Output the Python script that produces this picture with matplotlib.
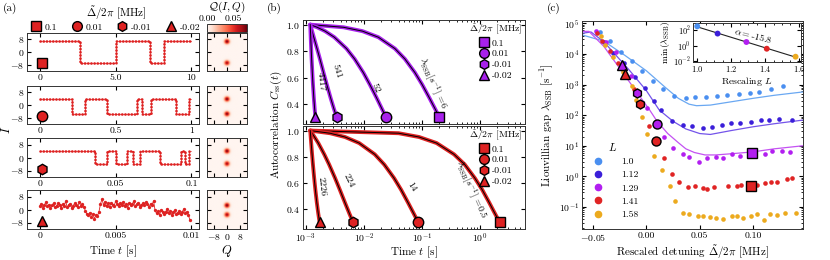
import matplotlib.pyplot as plt
import numpy as np
from matplotlib.lines import Line2D

plt.rcParams.update({
    "font.family": "serif",
    "font.serif": ["cmr10", "DejaVu Serif"],
    "mathtext.fontset": "cm",
    "axes.formatter.use_mathtext": True,
    "font.size": 7,
    "xtick.direction": "in", "ytick.direction": "in",
    "xtick.top": True, "ytick.right": True,
    "xtick.major.size": 3, "ytick.major.size": 3,
    "xtick.minor.size": 1.5, "ytick.minor.size": 1.5,
    "xtick.major.pad": 2, "ytick.major.pad": 2,
    "axes.linewidth": 0.7,
    "axes.edgecolor": "#333333",
})

RED = "#de2222"
PURPLE = "#a821ec"

# detuning legend
det_labels = ["0.1", "0.01", "-0.01", "-0.02"]
det_markers = ["s", "o", "h", "^"]

# ---- (a) time traces: switching times and levels ----
trace1_switch = [0, 2.68, 5.01, 7.25, 8.17, 10.0]
trace1_levels = [6.7, -6.9, 6.7, -6.9, 6.7]
trace2_switch = [0, 0.21, 0.295, 0.445, 0.64, 0.675, 0.73, 0.895, 0.985, 1.0]
trace2_levels = [3.8, -5.6, 3.8, -5.6, 3.8, -5.6, 3.8, -5.6, 3.8]
trace3_switch = [0, 0.0363, 0.044, 0.050, 0.0578, 0.0615, 0.0659, 0.0795, 0.0934, 0.0955, 0.0985, 0.1]
trace3_levels = [4.0, -3.8, 4.0, -3.8, 4.0, -3.8, 4.0, -3.8, 4.0, -3.8, 4.0]
# noisy trace, one sample every 0.1 ms
trace4_values = [2.1, 3.5, 1.2, 2.8, 4.6, 1.9, 3.0, 0.8, 2.5, 3.9, 1.6, 2.2, 4.1, 2.7, 0.9,
                 3.3, 2.0, 5.2, 1.4, 2.9, 3.6, 1.1, 2.4, 3.8, 2.6, 1.5, 4.4, 2.3, 3.1, 1.8,
                 -0.8, -2.9, -3.6, -1.9, -4.8, -2.7, -5.9, -3.2, -4.1, -1.3,
                 3.5, 6.4, 2.8, 4.9, 2.1, 3.7, 1.6, 4.2, 3.0, 2.4, 5.1, 3.3, 1.9, 3.9, 2.6,
                 4.5, 2.2, 3.4, 1.2, 4.0, 2.9, 3.6, 5.0, 2.0, 3.2, 4.3, 1.7, 2.8, 3.8, 2.5,
                 4.6, 3.1, 1.5, 3.5, 2.7, 5.4,
                 -0.5, -2.4, -1.1, -3.3, -0.2, -1.8, -2.9, -1.4, 0.6, -2.2, -1.0, -3.1,
                 -1.6, -0.4, -2.6, -1.9, -0.9, -2.8, -1.3, 0.3, -2.0, -1.5, -3.4, -6.5]
trace_spans = [10, 1, 0.1, 0.01]
trace_ticklabels = [["0", "5.0", "10"], ["0", "0.5", "1"], ["0", "0.05", "0.1"], ["0", "0.005", "0.01"]]
blob_levels = [(6.7, -6.9), (3.8, -5.6), (4.0, -3.8), (2.6, -3.2)]
blob_weights = [(0.55, 0.5), (0.55, 0.55), (0.55, 0.5), (0.55, 0.5)]
blob_sigma = 1.1

# ---- (b) autocorrelation curves ----
c_decay = [1.0, 0.98, 0.951, 0.905, 0.819, 0.741, 0.638, 0.549, 0.449, 0.368, 0.301]
lam_top = ["6", "52", "541", "4417"]
t_top = [
    [0.0012, 0.0045, 0.0095, 0.0179, 0.0345, 0.0512, 0.0762, 0.1012, 0.1345, 0.1679, 0.2012],
    [0.0012, 0.00158, 0.00216, 0.00312, 0.00505, 0.00697, 0.00985, 0.0127, 0.0166, 0.0204, 0.0243],
    [0.0012, 0.00124, 0.00129, 0.00138, 0.00157, 0.00176, 0.00203, 0.00231, 0.00268, 0.00305, 0.00342],
    [0.0012, 0.0012045, 0.0012113, 0.0012226, 0.0012453, 0.0012679, 0.0013019, 0.0013358,
     0.0013811, 0.0014264, 0.0014717],
]
lam_bot = ["0.5", "14", "224", "2226"]
t_bot = [
    [0.0012, 0.04, 0.09, 0.18, 0.36, 0.55, 0.82, 1.1, 1.46, 1.82, 2.2],
    [0.0012, 0.00263, 0.00477, 0.00834, 0.0155, 0.0226, 0.0333, 0.0441, 0.0583, 0.0726, 0.0869],
    [0.0012, 0.00129, 0.00142, 0.00165, 0.00209, 0.00254, 0.00321, 0.00388, 0.00477, 0.00566, 0.00656],
    [0.0012, 0.001209, 0.0012225, 0.0012449, 0.0012898, 0.0013348, 0.0014022, 0.0014695,
     0.0015594, 0.0016492, 0.0017391],
]
# curve label anchors (t, C, rotation)
lab_top = [(0.155, 0.56, -66), (0.0158, 0.52, -62), (0.0034, 0.645, -72), (0.00183, 0.57, -84)]
lab_bot = [(0.70, 0.55, -66), (0.066, 0.57, -57), (0.0055, 0.62, -64), (0.0019, 0.575, -84)]

# ---- (c) Liouvillian gap vs rescaled detuning (log10 values) ----
L_vals = ["1.0", "1.12", "1.29", "1.41", "1.58"]
L_colors = ["#4a8ff0", "#3b1fd9", "#b21ff0", "#e02424", "#ecaa1e"]
x_L10 = [-0.044, -0.034, -0.024, -0.014, -0.004, 0.006, 0.016, 0.026, 0.037, 0.046, 0.056, 0.066,
         0.076, 0.087, 0.097, 0.106, 0.117, 0.128]
g_L10 = [4.71, 4.41, 4.06, 3.76, 3.44, 3.11, 2.85, 2.62, 2.56, 2.59, 2.59, 2.62, 2.65, 2.69, 2.72,
         2.75, 2.85, 2.95]
x_L112 = [-0.040, -0.031, -0.021, -0.011, -0.001, 0.007, 0.014, 0.024, 0.034, 0.043, 0.053, 0.062,
          0.071, 0.079, 0.088, 0.098, 0.108, 0.115, 0.124, 0.137]
g_L112 = [4.40, 4.02, 3.70, 3.24, 2.88, 2.46, 2.17, 1.81, 1.68, 1.65, 1.58, 1.61, 1.68, 1.74, 1.74,
          1.78, 1.84, 1.84, 1.87, 1.84]
x_L129 = [-0.047, -0.038, -0.029, -0.0145, 0.0007, 0.0169, 0.0253, 0.034, 0.040, 0.049, 0.057,
          0.065, 0.072, 0.080, 0.088, 0.111, 0.118, 0.127, 0.135]
g_L129 = [4.74, 4.38, 4.05, 3.27, 2.22, 1.28, 0.92, 0.72, 0.63, 0.46, 0.60, 0.62, 0.61, 0.73, 0.66,
          0.74, 0.83, 0.83, 0.79]
x_L141 = [-0.046, -0.042, -0.034, -0.027, -0.012, 0.0022, 0.0169, 0.024, 0.031, 0.039, 0.046, 0.053,
          0.057, 0.063, 0.077, 0.085, 0.089, 0.104, 0.111, 0.117, 0.123, 0.132, 0.137]
g_L141 = [4.68, 4.44, 4.09, 3.69, 2.85, 1.65, 0.59, 0.07, -0.17, -0.35, -0.32, -0.39, -0.42, -0.35,
          -0.30, -0.31, -0.28, -0.28, -0.23, -0.17, -0.19, -0.08, -0.05]
x_L158 = [-0.043, -0.039, -0.031, -0.022, -0.014, -0.010, -0.0045, 0.0003, 0.0075, 0.0146, 0.022,
          0.027, 0.034, 0.040, 0.048, 0.053, 0.060, 0.065, 0.072, 0.080, 0.085, 0.091, 0.098, 0.104,
          0.110, 0.116, 0.123, 0.130, 0.140]
g_L158 = [4.58, 4.30, 3.90, 3.40, 2.95, 2.49, 1.93, 1.38, 0.67, 0.21, -0.30, -0.82, -1.20, -1.23,
          -1.28, -1.28, -1.32, -1.37, -1.38, -1.30, -1.30, -1.37, -1.29, -1.23, -1.42, -1.22, -1.25,
          -1.19, -1.20]
# theory lines
lx_L10 = [-0.060, -0.040, -0.020, 0.000, 0.018, 0.030, 0.040, 0.047, 0.060, 0.080, 0.100, 0.120, 0.147]
lg_L10 = [4.62, 4.42, 3.95, 3.45, 2.90, 2.55, 2.36, 2.31, 2.33, 2.44, 2.55, 2.65, 2.76]
lx_L112 = [-0.060, -0.052, -0.040, -0.016, 0.000, 0.012, 0.025, 0.037, 0.050, 0.060, 0.080, 0.100,
           0.120, 0.147]
lg_L112 = [4.68, 4.72, 4.40, 3.47, 2.80, 2.17, 1.80, 1.55, 1.40, 1.37, 1.50, 1.62, 1.72, 1.84]
lx_L129 = [-0.060, -0.054, -0.040, -0.016, 0.003, 0.010, 0.020, 0.030, 0.037, 0.045, 0.055, 0.065,
           0.080, 0.100, 0.120, 0.147]
lg_L129 = [4.74, 4.74, 4.25, 3.09, 2.17, 1.80, 1.40, 1.10, 0.90, 0.78, 0.70, 0.70, 0.74, 0.80, 0.90, 1.00]
line_colors = ["#6aa8f2", "#7454ea", "#c452f2"]
# highlighted detunings (order: 0.1, 0.01, -0.01, -0.02)
mark_x_129 = [0.099, 0.0095, -0.0085, -0.0225]
mark_x_141 = [0.0985, 0.0093, -0.0065, -0.0205]
lam_129 = [6, 52, 541, 4417]
lam_141 = [0.5, 14, 224, 2226]
# inset: minimum gap vs rescaling
L_num = [1.0, 1.12, 1.29, 1.41, 1.58]
min_gap = [300, 35, 2.9, 0.4, 0.038]


def step_path(switch, levels):
    x = np.repeat(switch, 2)[1:-1]
    y = np.repeat(levels, 2)
    return x, y


W, H = 830, 260
fig = plt.figure(figsize=(8.3, 2.6), dpi=100)


def box(x0, y0, x1, y1):
    return [x0 / W, 1 - y1 / H, (x1 - x0) / W, (y1 - y0) / H]


# ================= panel (a) =================
rows_px = [(33, 71), (86, 124), (138, 177), (190, 229)]
traces = [step_path(trace1_switch, trace1_levels),
          step_path(trace2_switch, trace2_levels),
          step_path(trace3_switch, trace3_levels),
          (np.arange(len(trace4_values)) * 1e-4, trace4_values)]
qg = np.linspace(-12, 12, 121)
QQ, II = np.meshgrid(qg, qg)
for k, (y0, y1) in enumerate(rows_px):
    T = trace_spans[k]
    ax = fig.add_axes(box(27, y0, 199, y1))
    tx, ty = traces[k]
    if k < 3:
        ax.plot(tx, ty, color=RED, lw=0.5, alpha=0.8)
        ax.plot(tx, ty, color=RED, lw=1.9, ls=(0, (0.1, 1.1)), dash_capstyle="round")
    else:
        ax.plot(tx, ty, color=RED, lw=0.6)
        ax.plot(tx, ty, ls="", marker="o", ms=2.4, color=RED, mew=0)
    ax.plot(0.09, 0.2, transform=ax.transAxes, marker=det_markers[k], ms=7.5,
            mfc=RED, mec="black", mew=1.0, ls="")
    ax.set_xlim(-0.085 * T, 1.05 * T)
    ax.set_ylim(-12, 12)
    ax.set_yticks([-8, 0, 8])
    ax.set_xticks([0, T / 2, T])
    ax.set_xticklabels(trace_ticklabels[k])
    ax.tick_params(labelsize=7)

    qa = fig.add_axes(box(207, y0, 247, y1))
    dens = np.zeros_like(QQ)
    for lvl, w in zip(blob_levels[k], blob_weights[k]):
        dens += w * np.exp(-(QQ ** 2 + (II - lvl) ** 2) / (2 * blob_sigma ** 2)) / (2 * np.pi * blob_sigma ** 2)
    im = qa.imshow(dens, extent=[-12, 12, -12, 12], origin="lower", cmap="Reds",
                   vmin=0, vmax=0.075, aspect="auto", interpolation="bilinear")
    qa.set_xticks([-8, 0, 8])
    qa.set_yticks([-8, 0, 8])
    qa.tick_params(labelleft=False, labelbottom=(k == 3), labelsize=7)

cax = fig.add_axes(box(207, 24, 247, 32))
cb = fig.colorbar(im, cax=cax, orientation="horizontal", ticks=[0.0, 0.05])
cb.ax.xaxis.set_ticks_position("top")
cb.ax.set_xticklabels(["0.00", "0.05"])
cb.ax.tick_params(labelsize=7, length=0, pad=1)
cb.outline.set_linewidth(0.7)
fig.text(227 / W, 1 - 7 / H, r"$\mathcal{Q}(I,Q)$", ha="center", va="center", fontsize=8)

h_a = [Line2D([], [], ls="", marker=m, ms=7, mfc=RED, mec="black", mew=1.0) for m in det_markers]
fig.legend(h_a, det_labels, ncol=4, loc="center", bbox_to_anchor=(116 / W, 1 - 18 / H),
           frameon=False, fontsize=7, title=r"$\tilde{\Delta}/2\pi$ [MHz]", title_fontsize=8,
           handletextpad=0.4, columnspacing=1.6, borderpad=0.0, handlelength=0.9,
           labelspacing=0.1)
fig.text(7 / W, 0.5, "$I$", rotation=90, ha="center", va="center", fontsize=9)
fig.text(113 / W, 1 - 251 / H, r"Time $t$ [s]", ha="center", va="center", fontsize=8)
fig.text(227 / W, 1 - 251 / H, "$Q$", ha="center", va="center", fontsize=9)

# ================= panel (b) =================
ax_bt = fig.add_axes(box(303, 20, 525, 124))
ax_bb = fig.add_axes(box(303, 126, 525, 229))
for ax, tl, lams, col, labs in [(ax_bt, t_top, lam_top, PURPLE, lab_top),
                                (ax_bb, t_bot, lam_bot, RED, lab_bot)]:
    for j, tt in enumerate(tl):
        ax.plot(tt, c_decay, color=col, lw=2.8, solid_capstyle="round")
        ax.plot(tt, c_decay, color="black", lw=0.7)
        ax.plot(tt[-1], 0.3, marker=det_markers[j], ms=7.5, mfc=col, mec="black", mew=1.0, ls="",
                zorder=5)
        lx, ly, rot = labs[j]
        txt = lams[j] if j > 0 else r"$\lambda_{\rm SSB}[s^{-1}]$ =" + lams[j]
        ax.text(lx, ly, txt, rotation=rot, ha="center", va="center", fontsize=7,
                rotation_mode="anchor", zorder=6)
    ax.set_xscale("log")
    ax.set_xlim(9e-4, 6)
    ax.set_ylim(0.25, 1.035)
    ax.set_yticks([0.4, 0.6, 0.8, 1.0])
    ax.tick_params(labelsize=7)
    h_b = [Line2D([], [], ls="", marker=m, ms=7, mfc=col, mec="black", mew=1.0) for m in det_markers]
    ax.legend(h_b, det_labels, loc="upper right", frameon=False, fontsize=7,
              title=r"$\tilde{\Delta}/2\pi$ [MHz]", title_fontsize=7, handletextpad=0.3,
              labelspacing=0.2, borderaxespad=0.2, handlelength=1.0, borderpad=0.1)
ax_bt.tick_params(labelbottom=False)
ax_bb.set_xticks([1e-3, 1e-2, 1e-1, 1e0])
fig.text(276 / W, 1 - 124.5 / H, r"Autocorrelation $C_{\rm ss}(t)$", rotation=90,
         ha="center", va="center", fontsize=8)
fig.text(414 / W, 1 - 252 / H, r"Time $t$ [s]", ha="center", va="center", fontsize=8)

# ================= panel (c) =================
ax_c = fig.add_axes(box(582, 21, 803, 229))
series = [(x_L10, g_L10), (x_L112, g_L112), (x_L129, g_L129), (x_L141, g_L141), (x_L158, g_L158)]
for (xs, gs), col in zip(series, L_colors):
    ax_c.scatter(xs, 10 ** np.array(gs), s=11, color=col, lw=0, zorder=3)
for (lx, lg), col in zip([(lx_L10, lg_L10), (lx_L112, lg_L112), (lx_L129, lg_L129)], line_colors):
    ax_c.plot(lx, 10 ** np.array(lg), color=col, lw=0.9, zorder=2)
for j, m in enumerate(det_markers):
    ax_c.plot(mark_x_129[j], lam_129[j], marker=m, ms=6.5, mfc=L_colors[2], mec="black", mew=1.0,
              ls="", zorder=5)
    ax_c.plot(mark_x_141[j], lam_141[j], marker=m, ms=6.5, mfc=L_colors[3], mec="black", mew=1.0,
              ls="", zorder=5)
ax_c.set_yscale("log")
ax_c.set_xlim(-0.0605, 0.147)
ax_c.set_ylim(0.019, 1.2e5)
ax_c.set_xticks([-0.05, 0.0, 0.05, 0.10])
ax_c.set_xticklabels(["$-0.05$", "0.00", "0.05", "0.10"])
ax_c.tick_params(labelsize=7)
ax_c.set_xlabel(r"Rescaled detuning $\tilde{\Delta}/2\pi$ [MHz]", fontsize=8, labelpad=0)
ax_c.set_ylabel(r"Liouvillian gap $\lambda_{\rm SSB}$ [s$^{-1}$]", fontsize=8, labelpad=2)
h_c = [Line2D([], [], ls="", marker="o", ms=4.5, mfc=c, mec=c) for c in L_colors]
ax_c.legend(h_c, L_vals, title="$L$", loc="lower left", bbox_to_anchor=(0.0, 0.02), frameon=False,
            fontsize=7, title_fontsize=8, handletextpad=1.4, labelspacing=0.45, borderaxespad=0.2)

ax_in = fig.add_axes(box(693, 23, 801, 62))
ax_in.scatter(L_num, min_gap, s=18, c=L_colors, lw=0, zorder=3)
coef = np.polyfit(L_num, np.log(min_gap), 1)
Lfit = np.array([L_num[0], L_num[-1]])
ax_in.plot(Lfit, np.exp(np.polyval(coef, Lfit)), color="#222222", lw=0.8, zorder=2)
ax_in.set_yscale("log")
ax_in.set_xlim(0.975, 1.612)
ax_in.set_ylim(10 ** -2.1, 10 ** 2.9)
ax_in.set_xticks([1.0, 1.2, 1.4, 1.6])
ax_in.set_yticks([1e-2, 1e0, 1e2])
ax_in.minorticks_on()
ax_in.yaxis.set_minor_locator(plt.NullLocator())
ax_in.tick_params(labelsize=6, pad=1.5)
ax_in.set_xlabel(r"Rescaling $L$", fontsize=7, labelpad=1)
ax_in.set_ylabel(r"min$(\lambda_{\rm SSB})$", fontsize=7, labelpad=1)
ax_in.text(1.33, 10 ** 1.25, r"$\alpha =$-15.8", rotation=-14, ha="center", va="center", fontsize=7)

fig.text(3 / W, 1 - 8 / H, "(a)", ha="left", va="center", fontsize=8)
fig.text(267 / W, 1 - 8 / H, "(b)", ha="left", va="center", fontsize=8)
fig.text(547 / W, 1 - 8 / H, "(c)", ha="left", va="center", fontsize=8)

fig.savefig("out.png", dpi=100)
